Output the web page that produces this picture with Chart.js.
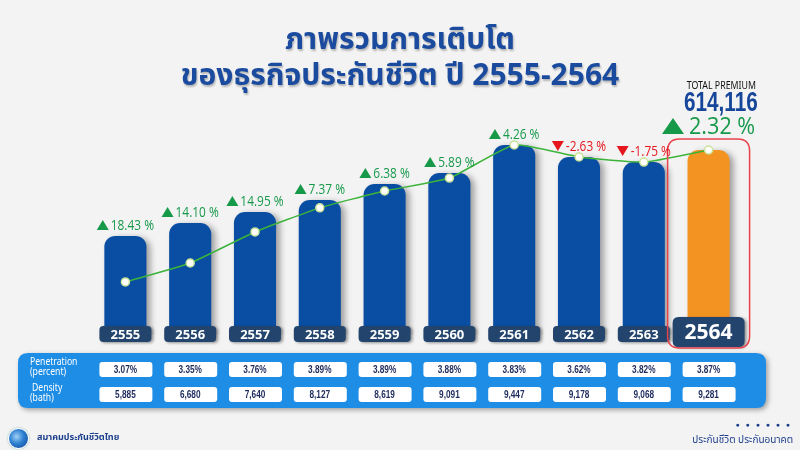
<!DOCTYPE html>
<html>
<head>
<meta charset="utf-8">
<script src="https://cdn.jsdelivr.net/npm/chart.js@4.4.1/dist/chart.umd.min.js"></script>
<style>
body{margin:0;width:800px;height:450px;overflow:hidden;position:relative;background:#f3f3f3;font-family:"Noto Sans Thai","Noto Sans",sans-serif;}
#myChart{position:absolute;left:0;top:0;}
.txt{position:absolute;z-index:2;}
#title{left:0;width:800px;top:22px;text-align:center;color:#1b4b9e;font-size:30px;line-height:36px;font-weight:bold;text-shadow:1px 2px 2px rgba(0,0,0,0.25);}
#totalLbl{left:660px;width:122px;top:78px;text-align:center;font-size:10px;color:#111;}
#totalLbl span{display:inline-block;transform:scaleX(0.88);}
#totalVal{left:660px;width:122px;top:88px;text-align:center;font-size:28px;line-height:28px;font-weight:bold;color:#16469a;font-family:"Liberation Sans",sans-serif;}
#totalVal span{display:inline-block;transform:scaleX(0.74);}
#logo{left:8px;top:428px;width:19px;height:19px;border-radius:50%;background:radial-gradient(circle at 40% 40%,#9fd0f5 0,#2d7fd1 45%,#0f3f8f 100%);border:1px solid #fff;box-shadow:0 0 2px #7aa;}
#assoc{left:37px;top:430px;font-size:9px;font-weight:bold;color:#1c3f8c;}
#dots{left:700px;width:92px;top:420px;text-align:right;font-size:7px;letter-spacing:2px;color:#1c3f8c;}
#slogan{left:650px;width:143px;top:432px;text-align:right;font-size:10px;color:#1c3f8c;}
</style>
</head>
<body>
<canvas id="myChart" width="800" height="450"></canvas>
<div class="txt" id="title">ภาพรวมการเติบโต<br>ของธุรกิจประกันชีวิต ปี 2555-2564</div>
<div class="txt" id="totalLbl"><span>TOTAL PREMIUM</span></div>
<div class="txt" id="totalVal"><span>614,116</span></div>
<div class="txt" id="logo"></div>
<div class="txt" id="assoc">สมาคมประกันชีวิตไทย</div>
<div class="txt" id="dots">● ● ● ● ● ●</div>
<div class="txt" id="slogan">ประกันชีวิต ประกันอนาคต</div>
<script>
var years = ["2555", "2556", "2557", "2558", "2559", "2560", "2561", "2562", "2563", "2564"];
// bar heights as drawn in the picture (not to true scale)
var premiumBars = [329, 372, 408, 448, 501, 538, 631, 591, 574, 614];
var premiumLine = [176, 239, 342, 422, 478, 521, 631, 591, 574, 614];
var growth = [18.43, 14.10, 14.95, 7.37, 6.38, 5.89, 4.26, -2.63, -1.75, 2.32];
var penetration = [3.07, 3.35, 3.76, 3.89, 3.89, 3.88, 3.83, 3.62, 3.82, 3.87];
var density = [5885, 6680, 7640, 8127, 8619, 9091, 9447, 9178, 9068, 9281];

var ctx = document.getElementById("myChart").getContext('2d');

function roundRect(c, x, y, w, h, r) {
    c.beginPath();
    c.moveTo(x + r, y);
    c.lineTo(x + w - r, y);
    c.quadraticCurveTo(x + w, y, x + w, y + r);
    c.lineTo(x + w, y + h - r);
    c.quadraticCurveTo(x + w, y + h, x + w - r, y + h);
    c.lineTo(x + r, y + h);
    c.quadraticCurveTo(x, y + h, x, y + h - r);
    c.lineTo(x, y + r);
    c.quadraticCurveTo(x, y, x + r, y);
    c.closePath();
}

// narrow text: draw squeezed horizontally
function narrowText(c, t, x, y, sx, align) {
    var w = c.measureText(t).width * sx;
    var left = align === 'center' ? x - w / 2 : x;
    c.save();
    c.translate(left, y);
    c.scale(sx, 1);
    c.textAlign = 'left';
    c.fillText(t, 0, 0);
    c.restore();
    return w;
}

var decor = {
    id: 'decor',
    beforeDatasetDraw: function(chart, args) {
        if (args.index === 1) {
            var c = chart.ctx;
            c.save();
            c.shadowColor = 'rgba(0,0,0,0.35)';
            c.shadowBlur = 6;
            c.shadowOffsetX = 4;
            c.shadowOffsetY = 2;
        }
    },
    afterDatasetDraw: function(chart, args) {
        if (args.index === 1) chart.ctx.restore();
    },
    afterDatasetsDraw: function(chart) {
        var c = chart.ctx;
        var bars = chart.getDatasetMeta(1).data;
        var last = years.length - 1;

        // year boxes
        bars.forEach(function(bar, i) {
            var big = i === last;
            var w = big ? 72 : 52, h = big ? 30 : 16;
            var top = big ? 317 : 326;
            c.save();
            c.shadowColor = 'rgba(0,0,0,0.4)';
            c.shadowBlur = 3;
            c.shadowOffsetX = 2;
            c.shadowOffsetY = 1;
            c.fillStyle = '#23456d';
            roundRect(c, bar.x - w / 2, top, w, h, big ? 6 : 4);
            c.fill();
            c.restore();
            c.fillStyle = '#ffffff';
            c.font = 'bold ' + (big ? 21 : 13) + 'px "Open Sans", sans-serif';
            c.textAlign = 'center';
            c.textBaseline = 'middle';
            c.fillText(years[i], bar.x, top + h / 2 + 1);
        });

        // red frame on the latest year
        var lb = bars[last];
        c.strokeStyle = '#e8434b';
        c.lineWidth = 1.5;
        roundRect(c, lb.x - 41, 139, 82, 209, 12);
        c.stroke();

        // growth labels
        bars.forEach(function(bar, i) {
            var big = i === last;
            var g = growth[i];
            var up = g >= 0;
            var col = up ? '#17994a' : '#e5161e';
            var fs = big ? 24 : 14;
            var sx = big ? 0.9 : 0.85;
            var tw = big ? 22 : 12, th = big ? 16 : 10;
            var txt = g.toFixed(2) + ' %';
            c.font = fs + 'px "Open Sans", sans-serif';
            var w = c.measureText(txt).width * sx;
            var gap = big ? 5 : 2;
            var total = tw + gap + w;
            var x0 = bar.x - total / 2;
            var cy = big ? 126 : bar.y - 11;
            c.fillStyle = col;
            c.beginPath();
            if (up) {
                c.moveTo(x0, cy + th / 2);
                c.lineTo(x0 + tw, cy + th / 2);
                c.lineTo(x0 + tw / 2, cy - th / 2);
            } else {
                c.moveTo(x0, cy - th / 2);
                c.lineTo(x0 + tw, cy - th / 2);
                c.lineTo(x0 + tw / 2, cy + th / 2);
            }
            c.closePath();
            c.fill();
            c.textBaseline = 'middle';
            narrowText(c, txt, x0 + tw + gap, cy + 1, sx, 'left');
        });

        // table panel
        c.save();
        c.shadowColor = 'rgba(0,0,0,0.35)';
        c.shadowBlur = 5;
        c.shadowOffsetX = 2;
        c.shadowOffsetY = 2;
        c.fillStyle = '#1e8de6';
        roundRect(c, 18, 353, 748, 55, 10);
        c.fill();
        c.restore();

        c.fillStyle = '#ffffff';
        c.font = '10.5px "Noto Sans", sans-serif';
        c.textBaseline = 'middle';
        narrowText(c, 'Penetration', 30, 362, 0.82, 'left');
        narrowText(c, '(percent)', 30, 372, 0.82, 'left');
        narrowText(c, 'Density', 32, 388, 0.82, 'left');
        narrowText(c, '(bath)', 30, 398, 0.82, 'left');

        bars.forEach(function(bar, i) {
            var rows = [penetration[i].toFixed(2) + '%', density[i].toLocaleString('en-US')];
            rows.forEach(function(t, r) {
                var top = r === 0 ? 362 : 387;
                c.fillStyle = '#ffffff';
                roundRect(c, bar.x - 26, top, 53, 15, 3);
                c.fill();
                c.fillStyle = '#1d2a5c';
                c.font = 'bold 11px "Liberation Sans", sans-serif';
                narrowText(c, t, bar.x, top + 8, 0.75, 'center');
            });
        });
    }
};

var barColors = years.map(function(y, i) { return i === years.length - 1 ? '#f39322' : '#0a4ea3'; });

var myChart = new Chart(ctx, {
    type: 'bar',
    data: {
        labels: years,
        datasets: [{
            type: 'line',
            data: premiumLine,
            order: 0,
            borderColor: '#3cb33a',
            borderWidth: 1.5,
            tension: 0.15,
            pointRadius: 4,
            pointBackgroundColor: '#ffffff',
            pointBorderColor: '#c8e29a',
            pointBorderWidth: 1.5
        }, {
            data: premiumBars,
            order: 1,
            backgroundColor: barColors,
            borderRadius: {topLeft: 11, topRight: 11},
            borderSkipped: 'bottom',
            barPercentage: 0.65,
            categoryPercentage: 1
        }]
    },
    options: {
        responsive: false,
        animation: false,
        layout: {padding: {left: 93, right: 59, top: 100, bottom: 115}},
        plugins: {legend: {display: false}, tooltip: {enabled: false}},
        scales: {
            x: {display: false, offset: true},
            y: {display: false, min: 0, max: 780}
        }
    },
    plugins: [decor]
});
</script>
</body>
</html>
